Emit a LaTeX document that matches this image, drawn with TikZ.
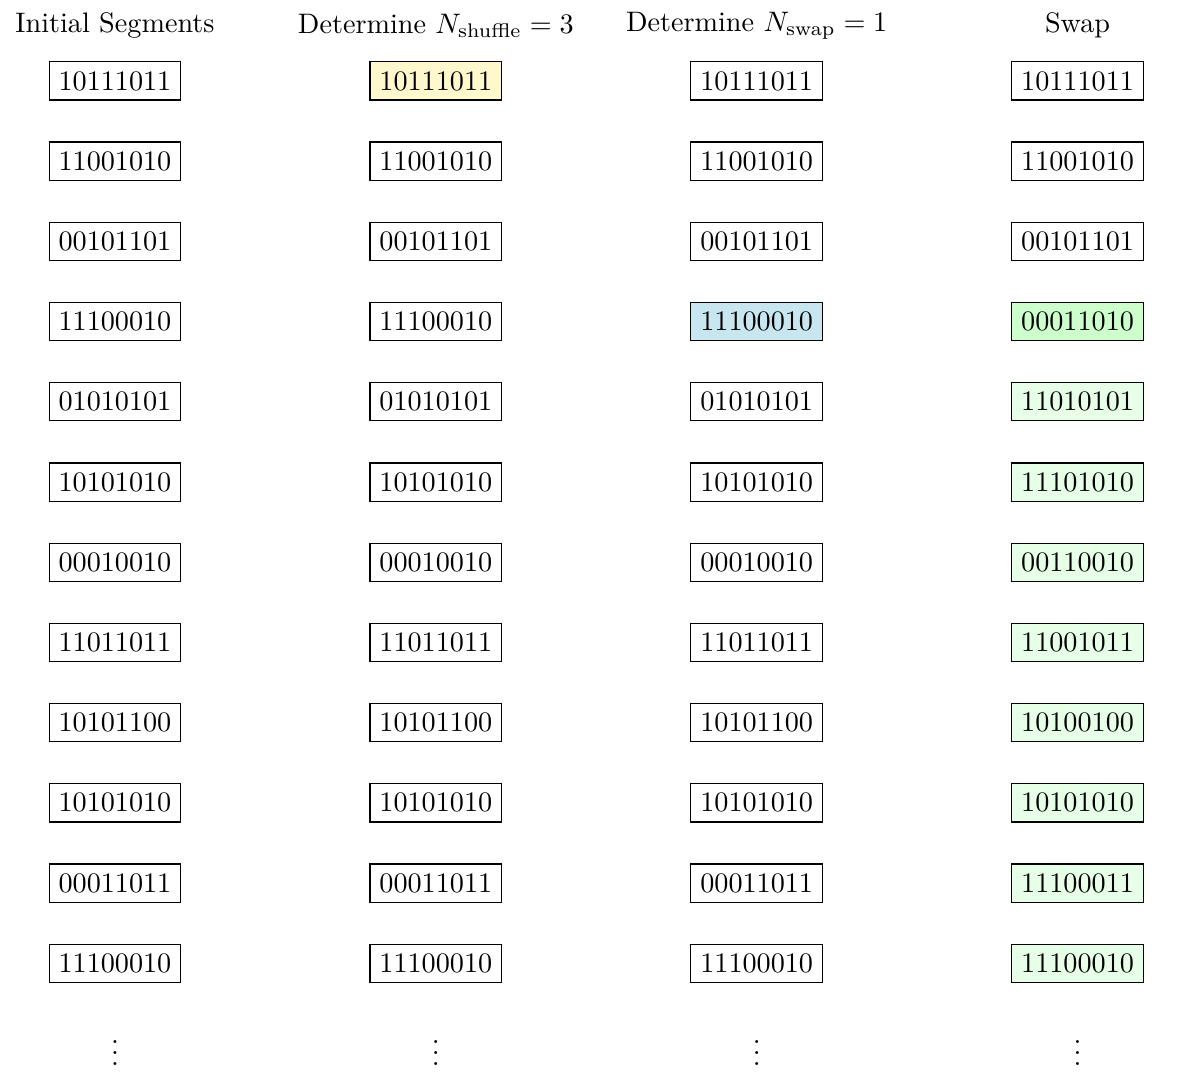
\documentclass[tikz,border=0pt]{standalone}
\definecolor{hlyellow}{HTML}{FFF8CC}
\definecolor{hlblue}{HTML}{C8E6F0}
\definecolor{hlgreen}{HTML}{CCFFCC}
\definecolor{hlgreenlight}{HTML}{E6FFE6}
\begin{document}
\begin{tikzpicture}
\tikzset{seg/.style={draw, inner sep=3.33pt, minimum height=13.1pt},
  hdr/.style={anchor=center}}
\useasboundingbox (-1.433,-12.53) rectangle (13.327,1.009);
\node[hdr] (h1) at (0,0.69) {Initial Segments};
\node[hdr] (h2) at (4,0.69) {Determine $N_{\mathrm{shuffle}}=3$};
\node[hdr] (h3) at (8,0.69) {Determine $N_{\mathrm{swap}}=1$};
\node[hdr] (h4) at (12,0.69) {Swap};
\foreach \v [count=\i] in {10111011,11001010,00101101,11100010,01010101,10101010,00010010,11011011,10101100,10101010,00011011,11100010}{
  \node[seg] (a\i) at (0,-\i+1) {\v};
  \ifnum\i=1
    \node[seg, fill=hlyellow] (b\i) at (4,-\i+1) {\v};
  \else
    \node[seg] (b\i) at (4,-\i+1) {\v};
  \fi
  \ifnum\i=4
    \node[seg, fill=hlblue] (c\i) at (8,-\i+1) {\v};
  \else
    \node[seg] (c\i) at (8,-\i+1) {\v};
  \fi
}
\foreach \v [count=\i] in {10111011,11001010,00101101}{
  \node[seg] (d\i) at (12,-\i+1) {\v};
}
\node[seg, fill=hlgreen] (d4) at (12,-3) {00011010};
\foreach \v [count=\j from 5] in {11010101,11101010,00110010,11001011,10100100,10101010,11100011,11100010}{
  \node[seg, fill=hlgreenlight] (d\j) at (12,-\j+1) {\v};
}
\node (va) at (0,-12.01) {$\vdots$};
\node (vb) at (4,-12.01) {$\vdots$};
\node (vc) at (8,-12.01) {$\vdots$};
\node (vd) at (12,-12.01) {$\vdots$};
\end{tikzpicture}
\end{document}
